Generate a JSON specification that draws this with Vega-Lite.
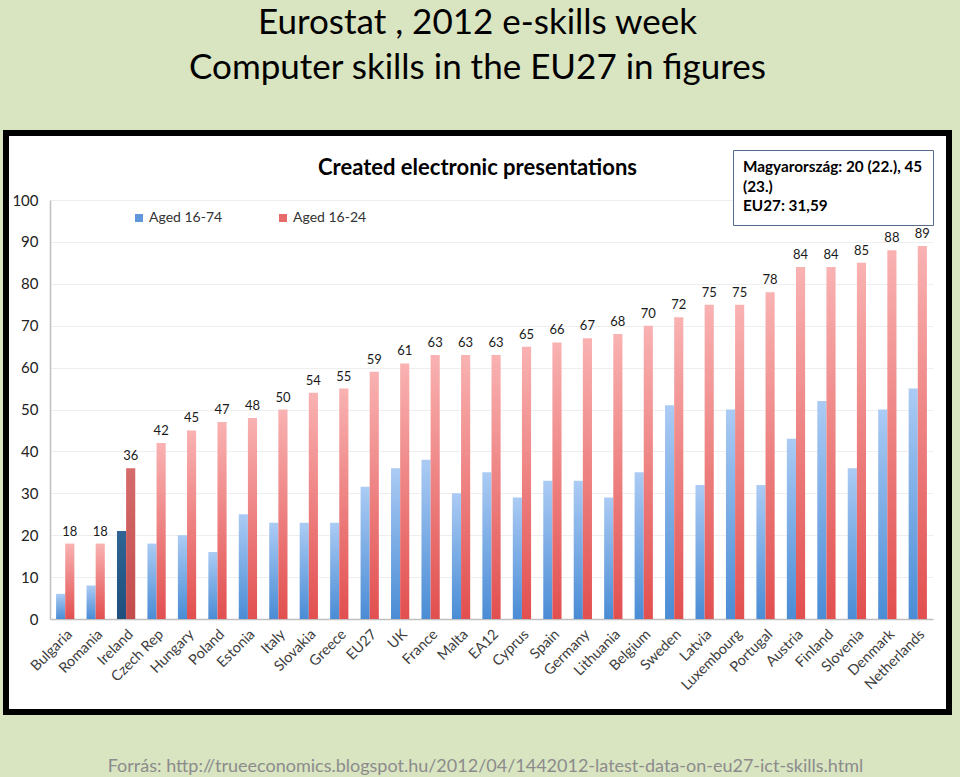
{
  "$schema": "https://vega.github.io/schema/vega-lite/v6.json",
  "width": 943,
  "height": 579,
  "autosize": "none",
  "padding": {"left": 6, "top": 133, "right": 11, "bottom": 65},
  "background": "#d9e4c1",
  "config": {
    "font": "Lato",
    "view": {"fill": "white", "stroke": "black", "strokeWidth": 6}
  },
  "title": {
    "text": ["Eurostat , 2012 e-skills week", "Computer skills in the EU27 in figures"],
    "subtitle": "Created electronic presentations",
    "font": "Lato",
    "fontSize": 35,
    "fontWeight": "normal",
    "lineHeight": 45,
    "color": "black",
    "subtitleFont": "Lato",
    "subtitleFontSize": 22,
    "subtitleFontWeight": "bold",
    "subtitleColor": "black",
    "subtitlePadding": 72,
    "anchor": "middle",
    "frame": "group",
    "offset": -46
  },
  "data": {
    "values": [
      {"country": "Bulgaria", "age": "Aged 16-74", "value": 6}, {"country": "Bulgaria", "age": "Aged 16-24", "value": 18},
      {"country": "Romania", "age": "Aged 16-74", "value": 8}, {"country": "Romania", "age": "Aged 16-24", "value": 18},
      {"country": "Ireland", "age": "Aged 16-74", "value": 21}, {"country": "Ireland", "age": "Aged 16-24", "value": 36},
      {"country": "Czech Rep", "age": "Aged 16-74", "value": 18}, {"country": "Czech Rep", "age": "Aged 16-24", "value": 42},
      {"country": "Hungary", "age": "Aged 16-74", "value": 20}, {"country": "Hungary", "age": "Aged 16-24", "value": 45},
      {"country": "Poland", "age": "Aged 16-74", "value": 16}, {"country": "Poland", "age": "Aged 16-24", "value": 47},
      {"country": "Estonia", "age": "Aged 16-74", "value": 25}, {"country": "Estonia", "age": "Aged 16-24", "value": 48},
      {"country": "Italy", "age": "Aged 16-74", "value": 23}, {"country": "Italy", "age": "Aged 16-24", "value": 50},
      {"country": "Slovakia", "age": "Aged 16-74", "value": 23}, {"country": "Slovakia", "age": "Aged 16-24", "value": 54},
      {"country": "Greece", "age": "Aged 16-74", "value": 23}, {"country": "Greece", "age": "Aged 16-24", "value": 55},
      {"country": "EU27", "age": "Aged 16-74", "value": 31.59}, {"country": "EU27", "age": "Aged 16-24", "value": 59},
      {"country": "UK", "age": "Aged 16-74", "value": 36}, {"country": "UK", "age": "Aged 16-24", "value": 61},
      {"country": "France", "age": "Aged 16-74", "value": 38}, {"country": "France", "age": "Aged 16-24", "value": 63},
      {"country": "Malta", "age": "Aged 16-74", "value": 30}, {"country": "Malta", "age": "Aged 16-24", "value": 63},
      {"country": "EA12", "age": "Aged 16-74", "value": 35}, {"country": "EA12", "age": "Aged 16-24", "value": 63},
      {"country": "Cyprus", "age": "Aged 16-74", "value": 29}, {"country": "Cyprus", "age": "Aged 16-24", "value": 65},
      {"country": "Spain", "age": "Aged 16-74", "value": 33}, {"country": "Spain", "age": "Aged 16-24", "value": 66},
      {"country": "Germany", "age": "Aged 16-74", "value": 33}, {"country": "Germany", "age": "Aged 16-24", "value": 67},
      {"country": "Lithuania", "age": "Aged 16-74", "value": 29}, {"country": "Lithuania", "age": "Aged 16-24", "value": 68},
      {"country": "Belgium", "age": "Aged 16-74", "value": 35}, {"country": "Belgium", "age": "Aged 16-24", "value": 70},
      {"country": "Sweden", "age": "Aged 16-74", "value": 51}, {"country": "Sweden", "age": "Aged 16-24", "value": 72},
      {"country": "Latvia", "age": "Aged 16-74", "value": 32}, {"country": "Latvia", "age": "Aged 16-24", "value": 75},
      {"country": "Luxembourg", "age": "Aged 16-74", "value": 50}, {"country": "Luxembourg", "age": "Aged 16-24", "value": 75},
      {"country": "Portugal", "age": "Aged 16-74", "value": 32}, {"country": "Portugal", "age": "Aged 16-24", "value": 78},
      {"country": "Austria", "age": "Aged 16-74", "value": 43}, {"country": "Austria", "age": "Aged 16-24", "value": 84},
      {"country": "Finland", "age": "Aged 16-74", "value": 52}, {"country": "Finland", "age": "Aged 16-24", "value": 84},
      {"country": "Slovenia", "age": "Aged 16-74", "value": 36}, {"country": "Slovenia", "age": "Aged 16-24", "value": 85},
      {"country": "Denmark", "age": "Aged 16-74", "value": 50}, {"country": "Denmark", "age": "Aged 16-24", "value": 88},
      {"country": "Netherlands", "age": "Aged 16-74", "value": 55}, {"country": "Netherlands", "age": "Aged 16-24", "value": 89}
    ]
  },
  "encoding": {
    "x": {
      "field": "country",
      "type": "nominal",
      "sort": null,
      "scale": {"range": [44, 927], "paddingInner": 0.4, "paddingOuter": 0.2},
      "axis": {
        "offset": -93,
        "labelAngle": -45,
        "labelFontSize": 14.5,
        "labelColor": "#404040",
        "labelPadding": 8,
        "ticks": false,
        "domainColor": "#bfbfbf",
        "domainWidth": 1.5,
        "title": "Forrás: http://trueeconomics.blogspot.hu/2012/04/1442012-latest-data-on-eu27-ict-skills.html",
        "titleFont": "Lato",
        "titleFontSize": 18,
        "titleFontWeight": "normal",
        "titleColor": "#8c8c8c",
        "titleX": 479,
        "titleY": 152,
        "titleAlign": "center",
        "titleBaseline": "alphabetic",
        "titleLimit": 2000
      }
    },
    "y": {
      "field": "value",
      "type": "quantitative",
      "scale": {"domain": [0, 100], "range": [486, 67], "nice": false},
      "axis": {
        "offset": -44,
        "values": [0, 10, 20, 30, 40, 50, 60, 70, 80, 90, 100],
        "labelFontSize": 15,
        "labelColor": "#222222",
        "labelPadding": 12,
        "ticks": false,
        "domainColor": "#bfbfbf",
        "domainWidth": 1.5,
        "gridColor": "#eeeeee",
        "title": null
      }
    },
    "xOffset": {"field": "age", "scale": {"domain": ["Aged 16-74", "Aged 16-24"]}}
  },
  "layer": [
    {
      "transform": [{"filter": "datum.age === 'Aged 16-74'"}],
      "mark": {"type": "bar"},
      "encoding": {
        "color": {
          "condition": {
            "test": "datum.country === 'Ireland'",
            "value": {"gradient": "linear", "x1": 0, "y1": 0, "x2": 0, "y2": 1, "stops": [{"offset": 0, "color": "#2f6594"}, {"offset": 1, "color": "#1f4f7c"}]}
          },
          "value": {"gradient": "linear", "x1": 0, "y1": 0, "x2": 0, "y2": 1, "stops": [{"offset": 0, "color": "#abcbf4"}, {"offset": 1, "color": "#4a8cd5"}]}
        }
      }
    },
    {
      "transform": [{"filter": "datum.age === 'Aged 16-24'"}],
      "mark": {"type": "bar"},
      "encoding": {
        "color": {
          "condition": {
            "test": "datum.country === 'Ireland'",
            "value": {"gradient": "linear", "x1": 0, "y1": 0, "x2": 0, "y2": 1, "stops": [{"offset": 0, "color": "#d66b6b"}, {"offset": 1, "color": "#c24c4c"}]}
          },
          "value": {"gradient": "linear", "x1": 0, "y1": 0, "x2": 0, "y2": 1, "stops": [{"offset": 0, "color": "#f9b2b2"}, {"offset": 1, "color": "#e24f4f"}]}
        },
        "strokeDash": {
          "datum": "note",
          "legend": {
            "title": ["Magyarország: 20 (22.), 45", "(23.)", "EU27: 31,59"],
            "values": [],
            "orient": "none",
            "legendX": 727,
            "legendY": 17,
            "titleFont": "Lato",
            "titleFontSize": 15.3,
            "titleFontWeight": "bold",
            "titleColor": "black",
            "titleLineHeight": 19.5,
            "titleLimit": 400,
            "padding": 10,
            "strokeColor": "#56698a",
            "fillColor": "white",
            "cornerRadius": 0
          }
        }
      }
    },
    {
      "mark": {"type": "bar"},
      "encoding": {
        "y": {"datum": 0},
        "color": {
          "field": "age",
          "type": "nominal",
          "scale": {"domain": ["Aged 16-74", "Aged 16-24"], "range": ["#5f97da", "#e8696a"]},
          "legend": {
            "title": null,
            "orient": "none",
            "legendX": 126,
            "legendY": 78,
            "direction": "horizontal",
            "symbolType": "square",
            "symbolSize": 64,
            "symbolStrokeWidth": 0,
            "labelFontSize": 14,
            "labelColor": "#333333",
            "labelOffset": 3,
            "columnPadding": 53
          }
        }
      }
    },
    {
      "transform": [{"filter": "datum.age === 'Aged 16-24'"}],
      "mark": {"type": "text", "baseline": "bottom", "dy": -5, "fontSize": 13, "color": "#1a1a1a"},
      "encoding": {"text": {"field": "value", "type": "quantitative"}}
    }
  ]
}
